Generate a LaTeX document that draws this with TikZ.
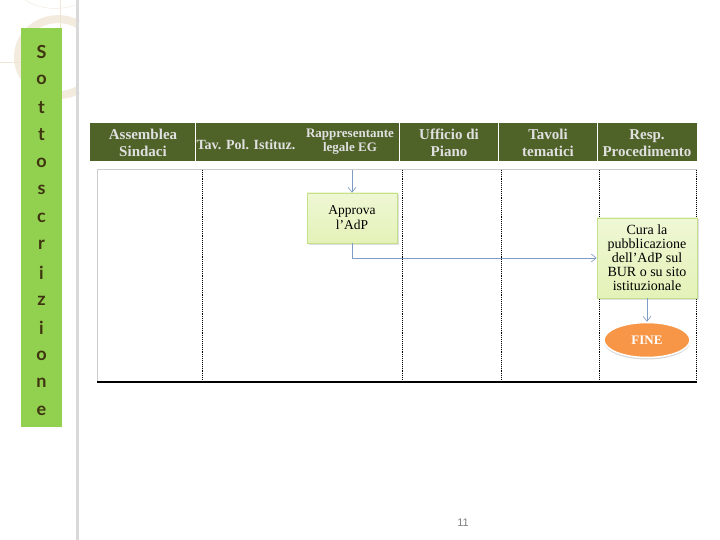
\documentclass[tikz,border=0pt]{standalone}
\usepackage{fontspec}
\setmainfont{Liberation Serif}
\newfontfamily\sansf{Liberation Sans}
\newfontfamily\barf{Lato}
\usetikzlibrary{shapes.geometric,shadows,arrows.meta}
\definecolor{olive}{HTML}{4F6228}
\definecolor{barg}{HTML}{92D050}
\definecolor{boxg}{HTML}{E4F2B8}
\definecolor{boxb}{HTML}{C5E08A}
\definecolor{orng}{HTML}{F79646}
\definecolor{arr}{HTML}{7F9CC4}
\definecolor{beige}{HTML}{E8DCC4}
\definecolor{letc}{HTML}{3F3410}
\tikzset{
  hdr/.style={text=white!88!black,font=\bfseries\fontsize{15}{17}\selectfont,align=center,inner sep=0pt},
  proc/.style={draw=boxb,line width=0.6pt,top color=boxg!60!white,bottom color=boxg,align=center,
     drop shadow={opacity=0.25,shadow xshift=1.5pt,shadow yshift=-1.5pt},inner sep=2pt},
  conn/.style={draw=arr,line width=0.8pt,-{Straight Barb[length=5pt,width=8pt,line width=0.6pt]}},
  lane/.style={densely dotted,line width=0.9pt,black},
}
\begin{document}
\begin{tikzpicture}[x=1pt,y=-1pt]
\useasboundingbox (0,0) rectangle (720,540);
\fill[white] (0,0) rectangle (720,540);
% decorative arcs
\draw[beige!70,line width=0.5pt] (0,62) -- (60,62) -- (60,0);
\draw[beige!60,line width=0.4pt] (75,5) arc (70:200:58);
\draw[beige!80,line width=8pt,opacity=0.7] (78,90) arc (60:300:40 and 38);
% gray page line
\fill[black!15] (76,0) rectangle (79,540);
% green side bar
\fill[barg] (21,28) rectangle (62,427);
\foreach \c [count=\i from 0] in {S,o,t,t,o,s,c,r,i,z,i,o,n,e}
  \node[font=\barf\bfseries\fontsize{18}{18}\selectfont,text=letc] at (41.5,52+\i*27.6) {\c};
% header
\fill[olive] (90,123) rectangle (697,161);
\foreach \x in {195,399,498,597} \draw[white,line width=1pt] (\x,123) -- (\x,161);
\node[hdr] (h1) at (143,143) {Assemblea\\Sindaci};
\node[hdr,font=\bfseries\fontsize{14}{16}\selectfont] (h2) at (246,145) {Tav. Pol. Istituz.};
\node[hdr,font=\bfseries\fontsize{13}{14}\selectfont] (h3) at (350,142) {Rappresentante\\legale EG};
\node[hdr] (h4) at (449,143) {Ufficio di\\Piano};
\node[hdr] (h5) at (548,143) {Tavoli\\tematici};
\node[hdr] (h6) at (647,143) {Resp.\\Procedimento};
% table body
\draw[black!20,line width=1pt] (97,382) -- (97,170) -- (697,170);
\foreach \x in {202,402,501,599,696} \draw[lane] (\x,170) -- (\x,382);
\draw[black,line width=2.2pt] (97,382) -- (697,382);
% nodes
\node[proc,minimum width=90pt,minimum height=50pt,font=\fontsize{13.5}{15}\selectfont] (app) at (352,218) {Approva\\l'AdP};
\node[proc,minimum width=100pt,minimum height=80pt,font=\fontsize{14}{14}\selectfont] (cura) at (647,258) {Cura la\\pubblicazione\\dell'AdP sul\\BUR o su sito\\istituzionale};
\node[ellipse,fill=orng,draw=white,line width=1.5pt,minimum width=86pt,minimum height=35pt,inner sep=0pt,
  drop shadow={opacity=0.3,shadow xshift=0pt,shadow yshift=-2pt},
  text=white,font=\bfseries\fontsize{13}{13}\selectfont] (fine) at (647,340) {FINE};
\coordinate (start) at (352,170);
% connectors
\draw[conn] (start) -- (app.north);
\draw[conn] (app.south) |- (cura.west);
\draw[conn] (cura.south) -- (fine.north);
% page number
\node[font=\sansf\fontsize{11}{11}\selectfont,text=black!50] (pg) at (463,523) {11};
\end{tikzpicture}
\end{document}
